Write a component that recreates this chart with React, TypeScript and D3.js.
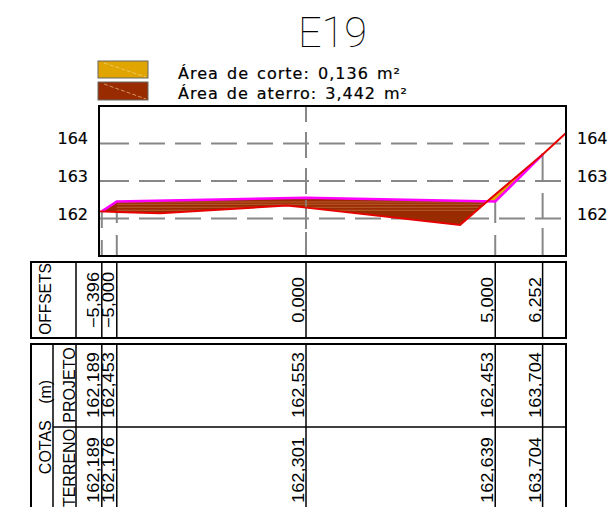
import React from "react";
import * as d3 from "d3";

const title = "E19";
const legendLabels = ["Área de corte: 0,136 m²", "Área de aterro: 3,442 m²"];
const legendColors = ["#e0a500", "#992b00"];
const elevationTicks = [164, 163, 162];
const columnOffsets = [-5.396, -5, 0, 5, 6.252];
const offsetLabels = ["−5,396", "−5,000", "0,000", "5,000", "6,252"];
const projetoLabels = ["162,189", "162,453", "162,553", "162,453", "163,704"];
const terrenoLabels = ["162,189", "162,176", "162,301", "162,639", "163,704"];
const projetoOffsets = [-5.396, -5, 0, 5, 6.252];
const projetoElev = [162.189, 162.453, 162.553, 162.453, 163.704];
const terrenoOffsets = [-5.47, -5, -3.86, -0.5, 0, 4.07, 5, 6.252, 6.87];
const terrenoElev = [162.19, 162.176, 162.14, 162.345, 162.29, 161.83, 162.639, 163.704, 164.28];
const columnDashes = [
  [[212, 228], [240, 256]],
  [[202, 223], [235, 256]],
  [[106, 122], [132, 158], [168, 194], [200, 229], [232, 256]],
  [[202, 223], [235, 256]],
  [[153, 182], [193, 218], [228, 256]],
];
const hatchElev = [162.44, 162.38, 162.3, 162.22];

const x = d3.scaleLinear().domain([-5.47, 6.87]).range([99, 566]);
const y = d3.scaleLinear().domain([162, 164]).range([218.5, 143.5]);
const line = d3.line<[number, number]>().x((d) => x(d[0])).y((d) => y(d[1]));

const projeto: [number, number][] = projetoOffsets.map((o, i) => [o, projetoElev[i]]);
const terreno: [number, number][] = terrenoOffsets.map((o, i) => [o, terrenoElev[i]]);
const interp = (pts: [number, number][], o: number) => {
  for (let i = 1; i < pts.length; i++) {
    if (o <= pts[i][0]) {
      const t = (o - pts[i - 1][0]) / (pts[i][0] - pts[i - 1][0]);
      return pts[i - 1][1] + t * (pts[i][1] - pts[i - 1][1]);
    }
  }
  return pts[pts.length - 1][1];
};
// crossing of the two profiles between the offsets 4.07 and 5
const crossing = (() => {
  let lo = 4.07, hi = 5;
  for (let i = 0; i < 30; i++) {
    const m = (lo + hi) / 2;
    if (interp(terreno, m) < interp(projeto, m)) lo = m; else hi = m;
  }
  return lo;
})();
const crossPt: [number, number] = [crossing, interp(projeto, crossing)];
const aterroPoly: [number, number][] = [
  ...projeto.filter((p) => p[0] < crossing),
  crossPt,
  ...terreno.filter((p) => p[0] < crossing && p[0] > -5.396).reverse(),
  projeto[0],
];
const cortePoly: [number, number][] = [
  crossPt,
  ...projeto.filter((p) => p[0] > crossing),
  ...terreno.filter((p) => p[0] > crossing && p[0] < 6.252).reverse(),
];

const GRID = "#878787";
const cadFont = "'DejaVu Sans', sans-serif";
const tableFont = "'Liberation Sans', Arial, sans-serif";
const dashH = "30 10 26 10 26 10 26 10 26 10 26 10 26 10 26 10 26 10 26 10 26 10 26 10 26 10 31";

const Rot = ({ cx, cy, children, size = 16, sx = 1, ws = 0 }: any) => (
  <text
    transform={`translate(${cx},${cy}) rotate(-90) scale(${sx},1)`}
    textAnchor="middle"
    fontFamily={tableFont}
    fontSize={size}
    wordSpacing={ws}
    fill="#000"
  >
    {children}
  </text>
);

const tableRight = 566;
const colLines = columnOffsets.map((o) => x(o));
const numScale = 1.14;

export default function App() {
  return (
    <svg
      width={614}
      height={507}
      viewBox="0 0 614 507"
      style={{ position: "absolute", left: 0, top: 0, background: "#fff" }}
    >
      <defs>
        <clipPath id="aterroClip">
          <path d={line(aterroPoly) + "Z"} />
        </clipPath>
      </defs>

      <text
        x={298}
        y={47}
        fontFamily="Roboto, 'DejaVu Sans', sans-serif"
        fontWeight={100}
        fontSize={42}
        textLength={69}
        lengthAdjust="spacingAndGlyphs"
      >
        {title}
      </text>

      {legendColors.map((c, i) => {
        const top = i === 0 ? 61 : 82;
        const h = i === 0 ? 17 : 18;
        return (
          <g key={c}>
            <rect x={98} y={top} width={50} height={h} fill={c} stroke="#666" strokeWidth={1} />
            <line x1={104} y1={top + 2} x2={146} y2={top + h - 1} stroke="#f5d9a0" strokeWidth={0.6} strokeDasharray="4 2" />
          </g>
        );
      })}
      {legendLabels.map((l, i) => (
        <text
          key={l}
          x={178}
          y={i === 0 ? 79 : 99}
          fontFamily={cadFont}
          fontSize={16}
          wordSpacing={2}
          textLength={i === 0 ? 222 : 229}
          fill="#000"
          stroke="#000"
          strokeWidth={0.2}
        >
          {l}
        </text>
      ))}

      {elevationTicks.map((t) => (
        <g key={t}>
          <line x1={99} x2={566} y1={y(t)} y2={y(t)} stroke={GRID} strokeWidth={2} strokeDasharray={dashH} />
          <text x={88} y={y(t) + (t === 162 ? 1.5 : 0.5)} textAnchor="end" fontFamily={cadFont} fontSize={16} fill="#000" stroke="#000" strokeWidth={0.15}>{t}</text>
          <text x={577} y={y(t) + (t === 162 ? 1.5 : 0.5)} fontFamily={cadFont} fontSize={16} fill="#000" stroke="#000" strokeWidth={0.15}>{t}</text>
        </g>
      ))}
      {columnOffsets.map((o, i) =>
        columnDashes[i].map(([a, b]) => (
          <line key={`${o}-${a}`} x1={x(o)} x2={x(o)} y1={a} y2={b} stroke={GRID} strokeWidth={2} />
        ))
      )}

      <path d={line(aterroPoly) + "Z"} fill={legendColors[1]} />
      <g clipPath="url(#aterroClip)">
        {hatchElev.map((e) => (
          <line key={e} x1={x(-5)} x2={x(5)} y1={y(e)} y2={y(e)} stroke="#d89a60" strokeWidth={0.7} opacity={0.7} />
        ))}
      </g>
      <path d={line(cortePoly) + "Z"} fill={legendColors[0]} />
      <line x1={x(0)} x2={x(0)} y1={200} y2={229} stroke={GRID} strokeWidth={2} opacity={0.75} />
      <path d={line(projeto) ?? ""} fill="none" stroke="#ff00ff" strokeWidth={2.5} />
      <path d={line(terreno) ?? ""} fill="none" stroke="#e60000" strokeWidth={2} />

      <rect x={99} y={106} width={467} height={150} fill="none" stroke="#000" strokeWidth={2} />

      {/* OFFSETS table */}
      <rect x={31} y={262} width={tableRight - 31} height={76} fill="none" stroke="#000" strokeWidth={2} />
      <line x1={76} x2={76} y1={262} y2={338} stroke="#000" strokeWidth={1.5} />
      {colLines.map((cx, i) => (
        <line key={i} x1={cx} x2={cx} y1={262} y2={338} stroke="#000" strokeWidth={1.5} />
      ))}
      <Rot cx={50.5} cy={299} sx={0.97}>OFFSETS</Rot>
      {offsetLabels.map((l, i) => (
        <Rot key={i} cx={colLines[i] - (i < 2 ? 3 : 2)} cy={300} sx={numScale}>{l}</Rot>
      ))}

      {/* COTAS table */}
      <path d={`M31 507V344H${tableRight}V507`} fill="none" stroke="#000" strokeWidth={2} />
      <line x1={53} x2={53} y1={344} y2={507} stroke="#000" strokeWidth={1.5} />
      <line x1={76} x2={76} y1={344} y2={507} stroke="#000" strokeWidth={1.5} />
      <line x1={53} x2={tableRight} y1={427} y2={427} stroke="#000" strokeWidth={1.5} />
      {colLines.map((cx, i) => (
        <line key={i} x1={cx} x2={cx} y1={344} y2={507} stroke="#000" strokeWidth={1.5} />
      ))}
      <Rot cx={51} cy={427} ws={12}>COTAS (m)</Rot>
      <Rot cx={74.5} cy={385}>PROJETO</Rot>
      <Rot cx={74.5} cy={468}>TERRENO</Rot>
      {projetoLabels.map((l, i) => (
        <Rot key={i} cx={colLines[i] - (i < 2 ? 3 : 2)} cy={385} sx={numScale}>{l}</Rot>
      ))}
      {terrenoLabels.map((l, i) => (
        <Rot key={i} cx={colLines[i] - (i < 2 ? 3 : 2)} cy={470} sx={numScale}>{l}</Rot>
      ))}
    </svg>
  );
}
